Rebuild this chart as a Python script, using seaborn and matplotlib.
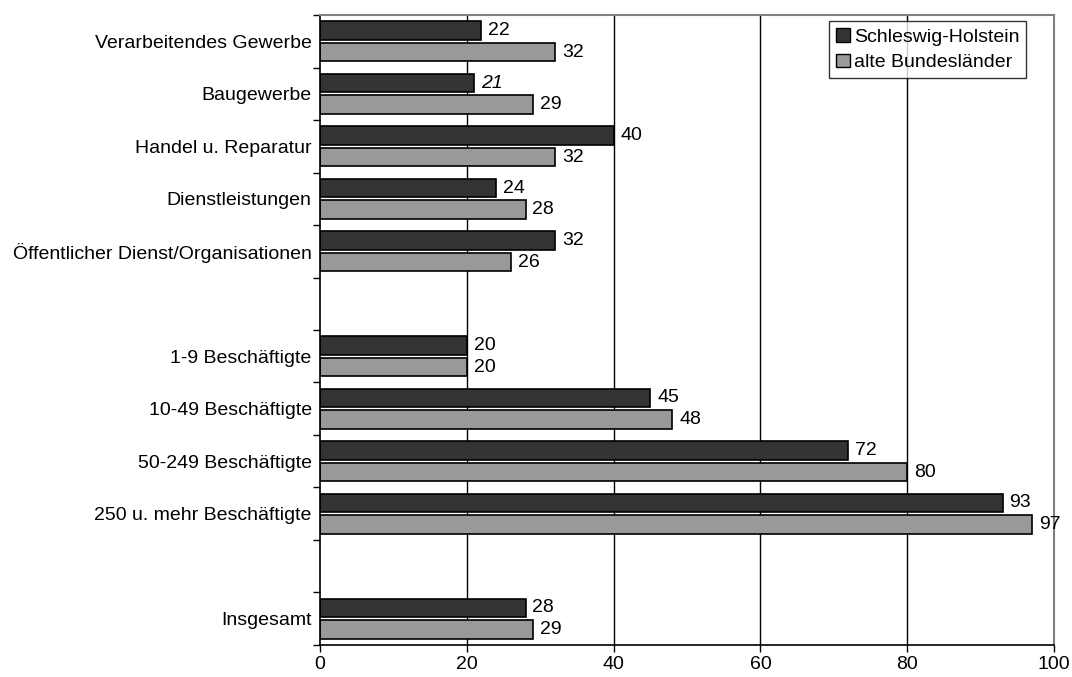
import matplotlib
matplotlib.use("Agg")
import matplotlib.pyplot as plt
from matplotlib.ticker import FixedLocator, NullFormatter
import pandas as pd
import seaborn as sns

# Rows of the chart; empty strings act as spacer rows between the blocks
rows = [
    "Verarbeitendes Gewerbe",
    "Baugewerbe",
    "Handel u. Reparatur",
    "Dienstleistungen",
    "Öffentlicher Dienst/Organisationen",
    "",
    "1-9 Beschäftigte",
    "10-49 Beschäftigte",
    "50-249 Beschäftigte",
    "250 u. mehr Beschäftigte",
    " ",
    "Insgesamt",
]
categories = [r for r in rows if r.strip()]
sh_values = [22, 21, 40, 24, 32, 20, 45, 72, 93, 28]
abl_values = [32, 29, 32, 28, 26, 20, 48, 80, 97, 29]
series = ["Schleswig-Holstein", "alte Bundesländer"]
colors = ["#333333", "#999999"]
x_ticks = [0, 20, 40, 60, 80, 100]

df = pd.DataFrame({
    "Bereich": categories * 2,
    "Anteil": sh_values + abl_values,
    "Region": [series[0]] * len(categories) + [series[1]] * len(categories),
})

sns.set_style("white")
plt.rcParams["font.family"] = ["Liberation Sans", "DejaVu Sans"]
plt.rcParams["font.size"] = 14
plt.rcParams["text.color"] = "black"
plt.rcParams["xtick.color"] = "black"
plt.rcParams["ytick.color"] = "black"
plt.rcParams["xtick.labelcolor"] = "black"
plt.rcParams["ytick.labelcolor"] = "black"

fig = plt.figure(figsize=(10.72, 6.77), dpi=100)
ax = fig.add_axes([0.2985, 0.0473, 0.6847, 0.9305])

sns.barplot(
    data=df, y="Bereich", x="Anteil", hue="Region", order=rows,
    hue_order=series, palette=colors, orient="h", width=0.82, gap=0.14,
    edgecolor="black", linewidth=1.2, saturation=1, ax=ax,
)

ax.set_xlim(0, 100)
ax.set_ylim(len(rows) - 0.5, -0.5)
ax.set_xticks(x_ticks)
ax.set_xlabel("")
ax.set_ylabel("")

# vertical gridlines
for v in x_ticks[1:-1]:
    ax.axvline(v, color="black", linewidth=1, zorder=0)

# category labels at row centres, tick marks at row boundaries
ax.set_yticks(range(len(rows)))
ax.set_yticklabels(rows)
ax.tick_params(axis="y", which="major", length=0, pad=6, labelsize=14)
ax.yaxis.set_minor_locator(FixedLocator([i - 0.5 for i in range(len(rows) + 1)]))
ax.yaxis.set_minor_formatter(NullFormatter())
ax.tick_params(axis="y", which="minor", length=5, width=1, color="black", direction="out", left=True)
ax.tick_params(axis="x", which="major", length=5, width=1, color="black", direction="out",
               bottom=True, labelsize=14, pad=3)

for side in ["left", "bottom"]:
    ax.spines[side].set_color("black")
    ax.spines[side].set_linewidth(1.2)
for side in ["top", "right"]:
    ax.spines[side].set_visible(True)
    ax.spines[side].set_color("#808080")
    ax.spines[side].set_linewidth(1.5)

# value labels
for idx, (container, vals) in enumerate(zip(ax.containers, [sh_values, abl_values])):
    texts = ax.bar_label(container, labels=[str(v) for v in vals], padding=5, fontsize=14)
    for t, v in zip(texts, vals):
        if idx == 0 and v == 21:
            t.set_style("italic")

leg = ax.legend(
    loc="upper right", bbox_to_anchor=(0.962, 0.99), frameon=True, fancybox=False,
    edgecolor="black", fontsize=14, handlelength=0.7, handleheight=0.7,
    handletextpad=0.2, borderpad=0.35, labelspacing=0.4, borderaxespad=0,
)
leg.get_frame().set_linewidth(1.0)
for h in leg.legend_handles:
    h.set_edgecolor("black")
    h.set_linewidth(1.0)

fig.savefig("out.png", dpi=100, facecolor="white")
